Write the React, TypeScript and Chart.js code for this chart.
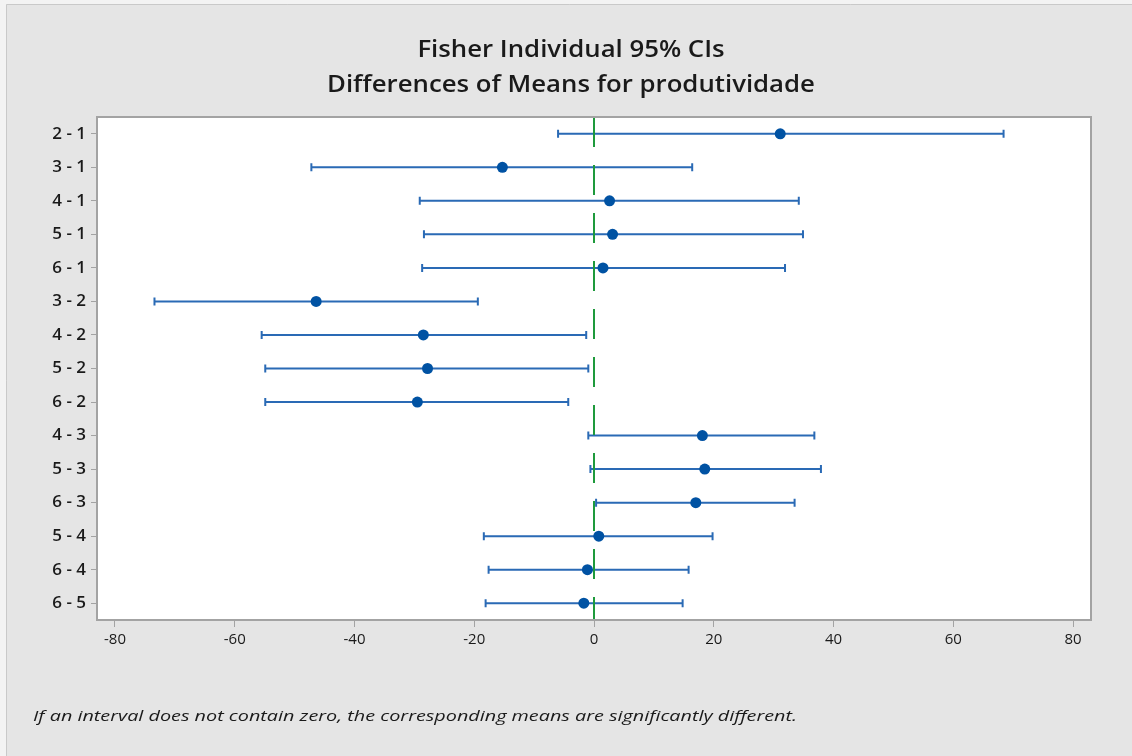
import React, { useEffect, useRef } from "react";
import { Chart, registerables } from "chart.js";

Chart.register(...registerables);

const CATEGORIES = ["2 - 1", "3 - 1", "4 - 1", "5 - 1", "6 - 1", "3 - 2", "4 - 2", "5 - 2", "6 - 2", "4 - 3", "5 - 3", "6 - 3", "5 - 4", "6 - 4", "6 - 5"];
const MEANS = [31.1, -15.3, 2.6, 3.1, 1.5, -46.4, -28.5, -27.8, -29.5, 18.1, 18.5, 17.0, 0.8, -1.1, -1.7];
const LOWER = [-6.0, -47.2, -29.1, -28.4, -28.7, -73.4, -55.5, -54.9, -54.9, -0.95, -0.6, 0.35, -18.4, -17.6, -18.1];
const UPPER = [68.4, 16.4, 34.2, 34.9, 31.9, -19.4, -1.3, -0.95, -4.3, 36.8, 37.9, 33.5, 19.8, 15.8, 14.8];
const X_TICKS = [-80, -60, -40, -20, 0, 20, 40, 60, 80];
const REFERENCE_VALUE = [0];
const TITLE_LINES = ["Fisher Individual 95% CIs", "Differences of Means for produtividade"];
const FOOTNOTE = "If an interval does not contain zero, the corresponding means are significantly different.";

const FONT = "'Open Sans', 'Noto Sans', sans-serif";

function drawStretchedText(ctx: any, text: string, x: number, y: number, sx: number, align: "left" | "center") {
  ctx.save();
  ctx.translate(x, y);
  ctx.scale(sx, 1);
  ctx.textAlign = align;
  ctx.textBaseline = "middle";
  ctx.fillText(text, 0, 0);
  ctx.restore();
}

const framePlugin = {
  id: "frame",
  beforeDraw(chart: any) {
    const { ctx, width, height, chartArea } = chart;
    ctx.save();
    ctx.fillStyle = "#f3f3f3";
    ctx.fillRect(0, 0, width, height);
    ctx.fillStyle = "#e5e5e5";
    ctx.fillRect(6, 4, width - 6, height - 4);
    ctx.strokeStyle = "#c9c9c9";
    ctx.lineWidth = 1;
    ctx.beginPath();
    ctx.moveTo(6.5, height);
    ctx.lineTo(6.5, 4.5);
    ctx.lineTo(width, 4.5);
    ctx.stroke();
    ctx.fillStyle = "#ffffff";
    ctx.fillRect(chartArea.left, chartArea.top, chartArea.right - chartArea.left, chartArea.bottom - chartArea.top);
    ctx.restore();
  },
  afterDraw(chart: any) {
    const { ctx, chartArea } = chart;
    ctx.save();
    ctx.strokeStyle = "#a3a3a3";
    ctx.lineWidth = 2;
    ctx.strokeRect(chartArea.left, chartArea.top, chartArea.right - chartArea.left, chartArea.bottom - chartArea.top);

    ctx.fillStyle = "#1a1a1a";
    ctx.font = `600 23px ${FONT}`;
    drawStretchedText(ctx, TITLE_LINES[0], 571, 50, 1.12, "center");
    drawStretchedText(ctx, TITLE_LINES[1], 571, 85, 1.12, "center");

    ctx.font = `italic 14px ${FONT}`;
    const w = ctx.measureText(FOOTNOTE).width;
    drawStretchedText(ctx, FOOTNOTE, 33, 717, 764 / w, "left");
    ctx.restore();
  },
};

const errorBarPlugin = {
  id: "errorBars",
  beforeDatasetsDraw(chart: any) {
    const { ctx } = chart;
    const xs = chart.scales.x;
    const ys = chart.scales.y;
    ctx.save();
    ctx.strokeStyle = "#2a6ab5";
    ctx.lineWidth = 2;
    for (let i = 0; i < CATEGORIES.length; i++) {
      const x1 = xs.getPixelForValue(LOWER[i]);
      const x2 = xs.getPixelForValue(UPPER[i]);
      const y = ys.getPixelForValue(i);
      ctx.beginPath();
      ctx.moveTo(x1, y);
      ctx.lineTo(x2, y);
      ctx.moveTo(x1, y - 4);
      ctx.lineTo(x1, y + 4);
      ctx.moveTo(x2, y - 4);
      ctx.lineTo(x2, y + 4);
      ctx.stroke();
    }
    ctx.restore();
  },
};

export default function App() {
  const ref = useRef<HTMLCanvasElement | null>(null);
  useEffect(() => {
    if (!ref.current) return;
    const chart = new Chart(ref.current, {
      type: "scatter",
      data: {
        datasets: [
          {
            type: "line",
            data: [
              { x: REFERENCE_VALUE[0], y: -0.5 },
              { x: REFERENCE_VALUE[0], y: CATEGORIES.length - 0.5 },
            ],
            borderColor: "#1e9a3c",
            borderWidth: 2,
            borderDash: [30, 18],
            pointRadius: 0,
            fill: false,
          } as any,
          {
            data: MEANS.map((m, i) => ({ x: m, y: i })),
            backgroundColor: "#0052a3",
            borderWidth: 0,
            pointRadius: 5.5,
          },
        ],
      },
      options: {
        responsive: false,
        animation: false,
        devicePixelRatio: 1,
        layout: { padding: { left: 51, right: 41, top: 117, bottom: 96 } },
        plugins: {
          legend: { display: false },
          tooltip: { enabled: false },
          title: { display: false },
        },
        scales: {
          x: {
            type: "linear",
            min: -83,
            max: 83,
            afterBuildTicks: (s: any) => {
              s.ticks = X_TICKS.map((v) => ({ value: v }));
            },
            afterFit: (s: any) => {
              s.height = 40;
            },
            grid: { drawOnChartArea: false, drawTicks: true, tickLength: 7, color: "#a3a3a3", lineWidth: 1 },
            border: { display: false },
            ticks: { font: { family: FONT, size: 15 }, color: "#1a1a1a", padding: 4, maxRotation: 0, autoSkip: false },
          },
          y: {
            type: "linear",
            min: -0.5,
            max: CATEGORIES.length - 0.5,
            reverse: true,
            afterBuildTicks: (s: any) => {
              s.ticks = CATEGORIES.map((_, i) => ({ value: i }));
            },
            afterFit: (s: any) => {
              s.width = 46;
            },
            grid: { drawOnChartArea: false, drawTicks: true, tickLength: 6, color: "#a3a3a3", lineWidth: 1 },
            border: { display: false },
            ticks: {
              font: { family: FONT, size: 17, weight: "600" },
              color: "#1a1a1a",
              padding: 5,
              autoSkip: false,
              callback: (v: any) => CATEGORIES[Number(v)] ?? "",
            },
          },
        },
      },
      plugins: [framePlugin, errorBarPlugin],
    });
    return () => chart.destroy();
  }, []);
  return (
    <div style={{ position: "fixed", left: 0, top: 0, width: 1132, height: 756 }}>
      <canvas ref={ref} width={1132} height={756} style={{ width: 1132, height: 756, display: "block" }} />
    </div>
  );
}
